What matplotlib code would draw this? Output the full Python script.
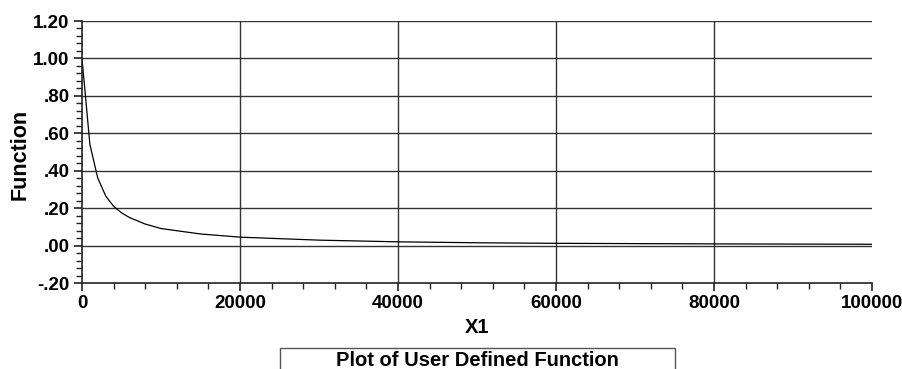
import matplotlib
matplotlib.use("Agg")
import matplotlib.pyplot as plt
from matplotlib.patches import Rectangle
from matplotlib.ticker import MultipleLocator, FuncFormatter

plt.rcParams['font.family'] = ['Liberation Sans', 'DejaVu Sans']
plt.rcParams['font.weight'] = 'bold'

# values
x1 = [0, 1000, 2000, 3000, 4000, 5000, 6000, 8000, 10000, 15000,
      20000, 30000, 40000, 50000, 60000, 80000, 100000]
func = [1.0, 0.54, 0.36, 0.265, 0.21, 0.175, 0.15, 0.115, 0.091, 0.062,
        0.045, 0.029, 0.02, 0.015, 0.012, 0.009, 0.007]

x_ticks = [0, 20000, 40000, 60000, 80000, 100000]
y_ticks = [-0.2, 0.0, 0.2, 0.4, 0.6, 0.8, 1.0, 1.2]

W, H = 902, 369
fig = plt.figure(figsize=(W / 100, H / 100), dpi=100)
ax = fig.add_axes([82 / W, 1 - 283 / H, (872 - 82) / W, (283 - 21) / H])

ax.plot(x1, func, color='black', lw=0.9)

ax.set_xlim(0, 100000)
ax.set_ylim(-0.2, 1.2)
ax.set_xticks(x_ticks)
ax.set_yticks(y_ticks)
ax.xaxis.set_minor_locator(MultipleLocator(4000))
ax.yaxis.set_minor_locator(MultipleLocator(0.04))


def yfmt(v, pos):
    s = '%.2f' % v
    s = s.replace('0.', '.', 1) if abs(v) < 1 else s
    return s


ax.yaxis.set_major_formatter(FuncFormatter(yfmt))

# grid lines
for yv in y_ticks[1:]:
    ax.axhline(yv, color='#333333', lw=1.0, zorder=0)
for xv in x_ticks[1:-1]:
    ax.axvline(xv, color='#333333', lw=1.0, zorder=0)

for s in ['top', 'right']:
    ax.spines[s].set_visible(False)
ax.spines['left'].set_color('#222222')
ax.spines['bottom'].set_color('#222222')
ax.spines['left'].set_linewidth(1.2)
ax.spines['bottom'].set_linewidth(1.2)

ax.tick_params(axis='both', which='major', labelsize=13.5, length=6, width=1.2,
               color='#222222', pad=3)
ax.tick_params(axis='both', which='minor', length=4, width=1.0, color='#222222')
for lab in ax.get_xticklabels() + ax.get_yticklabels():
    lab.set_fontweight('bold')

ax.set_xlabel('X1', fontsize=14.5, fontweight='bold', labelpad=4)
ax.set_ylabel('Function', fontsize=15.5, fontweight='bold')
ax.yaxis.set_label_coords(-51 / (872 - 82), 0.49)

# title box at the bottom (cut off by the figure edge)
fig.patches.append(Rectangle((280 / W, -0.05), (675 - 280) / W, 0.05 + 1 - 348 / H,
                             transform=fig.transFigure, fill=False,
                             edgecolor='#555555', lw=1.0))
fig.text(477 / W, 1 - 361 / H, 'Plot of User Defined Function', ha='center',
         va='center', fontsize=14.5, fontweight='bold')

fig.savefig('out.png', dpi=100)
